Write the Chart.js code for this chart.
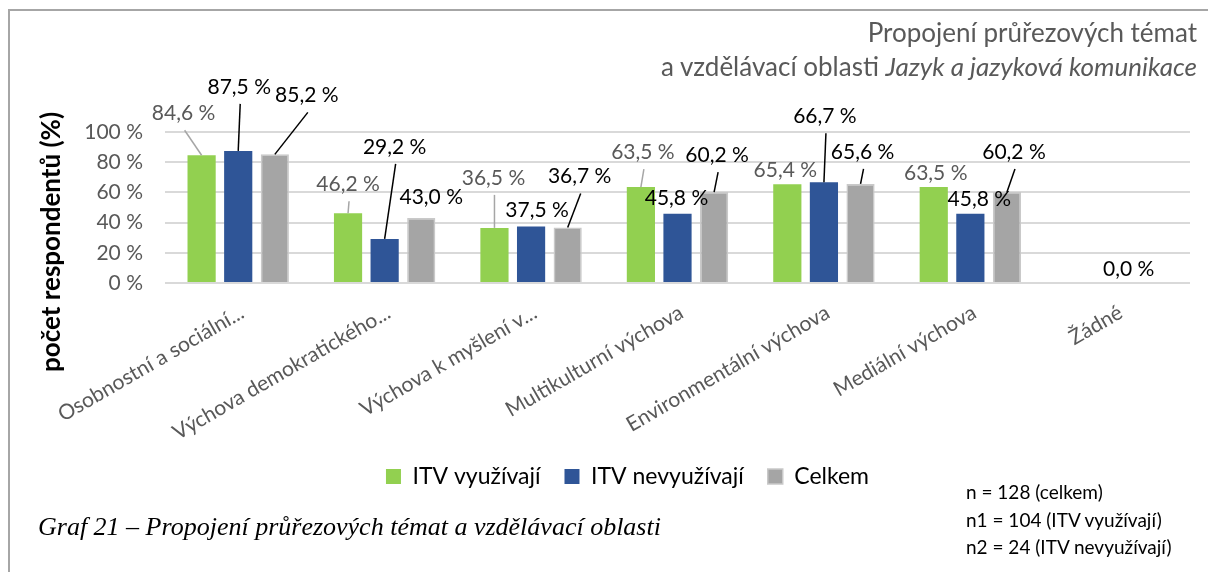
<!DOCTYPE html>
<html>
<head>
<meta charset="utf-8">
<script src="https://cdn.jsdelivr.net/npm/chart.js@4.4.1/dist/chart.umd.min.js"></script>
<style>
  body { margin: 0; background: #fff; font-family: Lato, sans-serif; }
  #wrap { position: relative; width: 1208px; height: 572px; overflow: hidden; }
  #frame { position: absolute; left: 8px; top: 9px; width: 1300px; height: 700px;
           border-top: 2px solid #a6a6a6; border-left: 2px solid #a6a6a6; }
  canvas { position: absolute; left: 0; top: 0; }
  .title { position: absolute; right: 11px; top: 15px; text-align: right; color: #595959;
           font-size: 26px; line-height: 34px; white-space: nowrap; }
  .ytitle { position: absolute; left: -100px; top: 228px; width: 300px; text-align: center;
            font-weight: bold; font-size: 26px; line-height: 28px; color: #000;
            transform: rotate(-90deg); }
  .caption { position: absolute; left: 38px; top: 512px; font-family: "Liberation Serif", serif;
             font-style: italic; font-size: 26px; color: #000; white-space: nowrap; }
  .notes { position: absolute; left: 966px; top: 478px; font-size: 19px; line-height: 27.5px;
           color: #000; white-space: nowrap; }
</style>
</head>
<body>
<div id="wrap">
  <div id="frame"></div>
  <canvas id="chart" width="1208" height="572"></canvas>
  <div class="title">Propojení průřezových témat<br>a vzdělávací oblasti <i>Jazyk a jazyková komunikace</i></div>
  <div class="ytitle">počet respondentů (%)</div>
  <div class="caption">Graf 21 – Propojení průřezových témat a vzdělávací oblasti</div>
  <div class="notes">n = 128 (celkem)<br>n1 = 104 (ITV využívají)<br>n2 = 24 (ITV nevyužívají)</div>
</div>
<script>
const categories = [
  "Osobnostní a sociální...",
  "Výchova demokratického...",
  "Výchova k myšlení v...",
  "Multikulturní výchova",
  "Environmentální výchova",
  "Mediální výchova",
  "Žádné"
];
const seriesNames = ["ITV využívají", "ITV nevyužívají", "Celkem"];
const itvUse = [84.6, 46.2, 36.5, 63.5, 65.4, 63.5, 0.0];
const itvNoUse = [87.5, 29.2, 37.5, 45.8, 66.7, 45.8, 0.0];
const total = [85.2, 43.0, 36.7, 60.2, 65.6, 60.2, 0.0];
const yTicks = [0, 20, 40, 60, 80, 100];

const colors = ["#92d050", "#2f5597", "#a5a5a5"];
const labelColors = ["#595959", "#000000", "#000000"];
const lineColors = ["#a6a6a6", "#000000", "#000000"];

// label placement relative to bar top: [dx, dy, leader line?]
const labelPos = [
  [[-18, -42, 1], [0, -29, 1], [-1, -50, 1], [2, -35, 1], [-2, -14, 0], [2, -14, 0], null],
  [[1, -64, 1], [10, -92, 1], [6, -16, 0], [-1, -16, 0], [1, -66, 1], [9, -15, 0], [12, -14, 0]],
  [[32, -59, 1], [10, -21, 0], [12, -51, 1], [3, -37, 1], [2, -32, 1], [7, -40, 1], null]
];

const fmt = v => v.toFixed(1).replace(".", ",") + " %";

const barLabels = {
  id: "barLabels",
  afterDatasetsDraw(chart) {
    const ctx = chart.ctx;
    ctx.save();
    ctx.font = "21px Lato";
    ctx.textAlign = "center";
    ctx.textBaseline = "middle";
    chart.data.datasets.forEach((ds, i) => {
      const meta = chart.getDatasetMeta(i);
      meta.data.forEach((bar, j) => {
        const p = labelPos[i][j];
        if (!p) return;
        const tx = bar.x + p[0];
        const ty = bar.y + p[1];
        if (p[2]) {
          ctx.strokeStyle = lineColors[i];
          ctx.lineWidth = 1.5;
          ctx.beginPath();
          ctx.moveTo(tx + 1, ty + 17);
          ctx.lineTo(bar.x, bar.y);
          ctx.stroke();
        }
        ctx.fillStyle = labelColors[i];
        ctx.fillText(fmt(ds.data[j]), tx, ty);
      });
    });
    ctx.restore();
  }
};

new Chart(document.getElementById("chart"), {
  type: "bar",
  data: {
    labels: categories,
    datasets: [
      { label: seriesNames[0], data: itvUse, backgroundColor: colors[0] },
      { label: seriesNames[1], data: itvNoUse, backgroundColor: colors[1] },
      { label: seriesNames[2], data: total, backgroundColor: colors[2],
        borderColor: "#c9c9c9", borderWidth: 1.5 }
    ]
  },
  options: {
    responsive: false,
    animation: false,
    devicePixelRatio: 1,
    categoryPercentage: 0.75,
    barPercentage: 0.77,
    layout: { padding: { left: 65, top: 132, right: 18, bottom: 74 } },
    plugins: {
      legend: {
        position: "bottom",
        labels: {
          boxWidth: 15, boxHeight: 15, padding: 24,
          color: "#000", font: { family: "Lato", size: 23 }
        }
      },
      tooltip: { enabled: false }
    },
    scales: {
      x: {
        grid: { display: false, drawTicks: false },
        border: { display: false },
        ticks: {
          autoSkip: false, minRotation: 30, maxRotation: 30, padding: 17, labelOffset: 4,
          color: "#595959", font: { family: "Lato", size: 21 }
        },
        afterFit: s => { s.height = 158; }
      },
      y: {
        min: 0, max: 100,
        afterBuildTicks: s => { s.ticks = yTicks.map(v => ({ value: v })); },
        grid: { color: "#d9d9d9", lineWidth: 2, drawTicks: false },
        border: { display: false },
        ticks: {
          padding: 22, color: "#595959", font: { family: "Lato", size: 21 },
          callback: v => v + " %"
        },
        afterFit: s => { s.width = 100; }
      }
    }
  },
  plugins: [barLabels]
});
</script>
</body>
</html>
